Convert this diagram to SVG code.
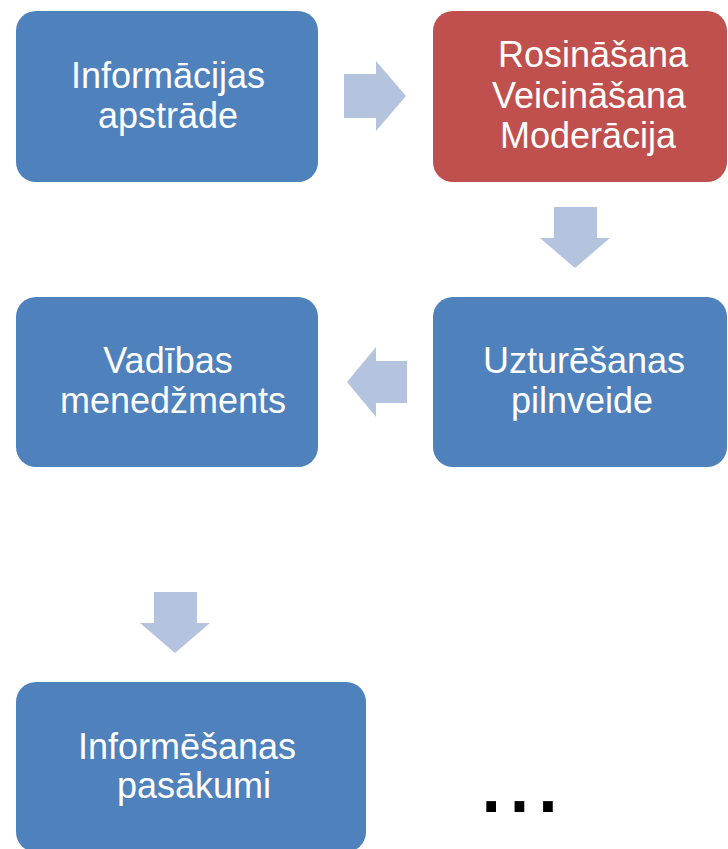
<svg xmlns="http://www.w3.org/2000/svg" width="728" height="849" viewBox="0 0 728 849">
<style>
.node{fill:#4F81BD;}
.red{fill:#C0504D;}
.lbl{font-family:"Liberation Sans",Arial,sans-serif;font-size:36px;fill:#FFFFFF;text-anchor:middle;}
.arrow{fill:#B4C4DE;}
.dots{font-family:"Liberation Sans",Arial,sans-serif;font-size:102px;fill:#000000;}
</style>
<rect width="728" height="849" fill="#FFFFFF"/>
<g id="connectors">
<polygon class="arrow" points="344,74 376,74 376,61 406,96 376,131 376,118 344,118"/>
<polygon class="arrow" points="554,207 597,207 597,238 610,238 575,268 540,238 554,238"/>
<polygon class="arrow" points="407,361 376,361 376,347 347,382 376,417 376,403 407,403"/>
<polygon class="arrow" points="154,592 197,592 197,623 210,623 175,653 140,623 154,623"/>
</g>
<g id="node-informacijas">
<rect class="node" x="16" y="11" width="302" height="171" rx="20"/>
<text class="lbl" x="168" y="88">Informācijas</text>
<text class="lbl" x="168" y="128">apstrāde</text>
</g>
<g id="node-rosinasana">
<rect class="red" x="433" y="11" width="294" height="171" rx="20"/>
<text class="lbl" x="593" y="67">Rosināšana</text>
<text class="lbl" x="589" y="108">Veicināšana</text>
<text class="lbl" x="588" y="148">Moderācija</text>
</g>
<g id="node-uzturesanas">
<rect class="node" x="433" y="297" width="294" height="170" rx="20"/>
<text class="lbl" x="584" y="373">Uzturēšanas</text>
<text class="lbl" x="582" y="413">pilnveide</text>
</g>
<g id="node-vadibas">
<rect class="node" x="16" y="297" width="302" height="170" rx="20"/>
<text class="lbl" x="168" y="373">Vadības</text>
<text class="lbl" x="173" y="413">menedžments</text>
</g>
<g id="node-informesanas">
<rect class="node" x="16" y="682" width="350" height="170" rx="20"/>
<text class="lbl" x="187" y="759">Informēšanas</text>
<text class="lbl" x="194" y="798">pasākumi</text>
</g>
<g id="ellipsis">
<text class="dots" x="477" y="812">...</text>
</g>
</svg>
